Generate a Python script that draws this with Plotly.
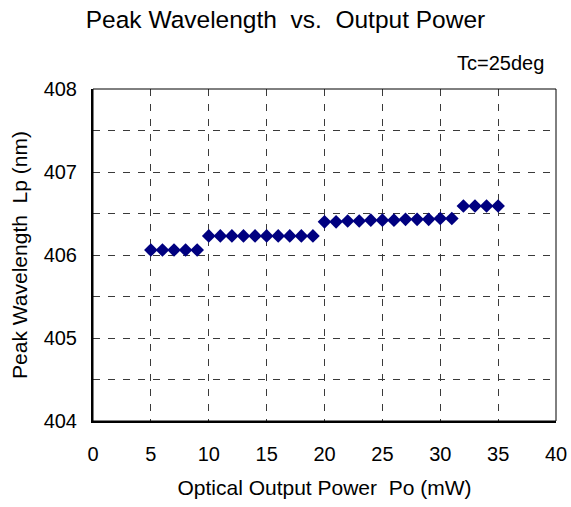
import plotly.graph_objects as go

# Optical output power (mW) and peak wavelength (nm)
power_mw = [5, 6, 7, 8, 9,
            10, 11, 12, 13, 14, 15, 16, 17, 18, 19,
            20, 21, 22, 23, 24, 25, 26, 27, 28, 29, 30, 31,
            32, 33, 34, 35]
wavelength_nm = [406.06, 406.06, 406.06, 406.06, 406.06,
                 406.23, 406.23, 406.23, 406.23, 406.23, 406.23, 406.23, 406.23, 406.23, 406.23,
                 406.40, 406.40, 406.41, 406.41, 406.42, 406.42, 406.42, 406.43, 406.43, 406.43, 406.44, 406.44,
                 406.59, 406.59, 406.59, 406.59]

x_ticks = [0, 5, 10, 15, 20, 25, 30, 35, 40]
y_ticks = [404, 405, 406, 407, 408]

FONT = "Liberation Sans, Arial, sans-serif"
GRID = dict(showgrid=True, gridcolor="#3a3a3a", griddash="7px,8px", gridwidth=1)
W, H = 571, 507

fig = go.Figure()

fig.add_trace(go.Scatter(
    x=power_mw,
    y=wavelength_nm,
    mode="markers",
    marker=dict(symbol="diamond", size=10.5, color="#000080"),
    showlegend=False,
))

fig.update_layout(
    width=W,
    height=H,
    margin=dict(l=93, r=15, t=89, b=86),
    paper_bgcolor="white",
    plot_bgcolor="white",
    font=dict(family=FONT, color="black", size=20),
    title=dict(text="Peak Wavelength\u00a0 vs.\u00a0 Output Power", x=0.5, xanchor="center",
               y=1 - 19 / H, yanchor="middle", font=dict(size=24.5)),
    annotations=[dict(text="Tc=25deg", xref="paper", yref="paper", x=0.979, y=1.0,
                      xanchor="right", yanchor="middle", yshift=26, showarrow=False,
                      font=dict(size=20))],
    shapes=[dict(type="rect", xref="paper", yref="paper", x0=0, x1=1, y0=0, y1=1,
                 line=dict(color="black", width=1))],
)

fig.update_xaxes(
    range=[0, 40], tickvals=x_ticks, ticks="", ticklabelstandoff=14,
    showline=True, linecolor="black", linewidth=2, zeroline=False, automargin=False,
    title=dict(text="Optical Output Power\u00a0 Po (mW)", font=dict(size=21), standoff=16),
    **GRID,
)
fig.update_yaxes(
    range=[404, 408], tickvals=y_ticks, ticks="", ticklabelstandoff=10,
    minor=dict(dtick=0.5, **GRID),
    showline=True, linecolor="black", linewidth=2, zeroline=False, automargin=False,
    title=dict(text="Peak Wavelength\u00a0 Lp (nm)", font=dict(size=21), standoff=10),
    **GRID,
)

# drop the page's default body margin so the figure fills the window exactly
fig.write_html("out.html", config={"displayModeBar": False},
               post_script="document.body.style.margin='0';document.body.style.overflow='hidden';")
